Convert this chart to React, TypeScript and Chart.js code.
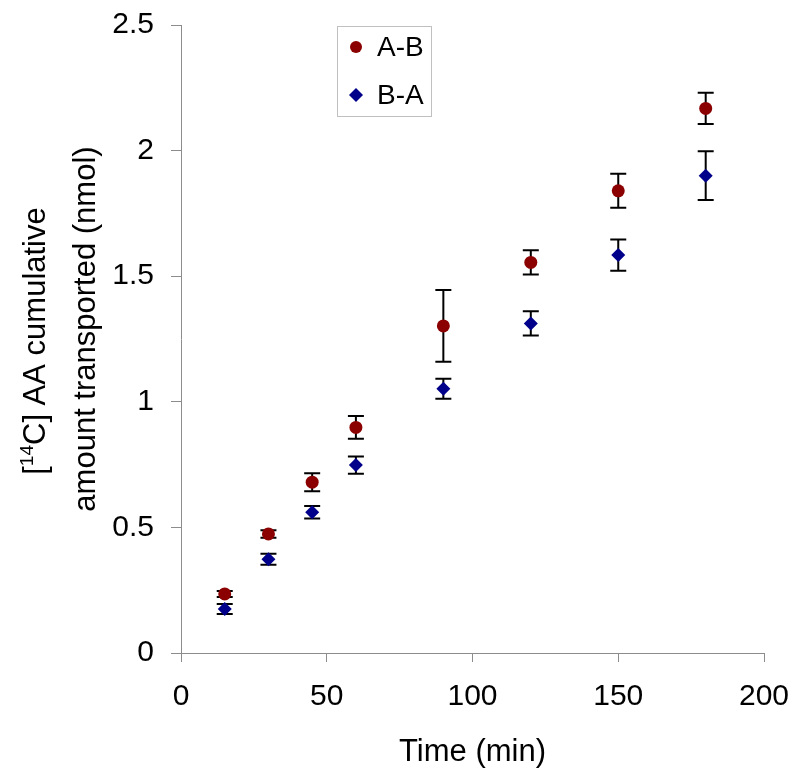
import React, { useEffect, useRef } from "react";
import { Chart, registerables } from "chart.js";

Chart.register(...registerables);

// ---- data ----
const times = [15, 30, 45, 60, 90, 120, 150, 180];
const abValues = [0.235, 0.474, 0.68, 0.898, 1.302, 1.555, 1.84, 2.168];
const abErrors = [0.012, 0.015, 0.036, 0.045, 0.143, 0.048, 0.068, 0.062];
const baValues = [0.175, 0.373, 0.56, 0.748, 1.052, 1.312, 1.584, 1.9];
const baErrors = [0.02, 0.022, 0.025, 0.034, 0.04, 0.048, 0.062, 0.097];
const seriesLabels = ["A-B", "B-A"];
const xTitle = "Time (min)";
const yTitleLine1 = ["[", "14", "C] AA cumulative"];
const yTitleLine2 = "amount transported (nmol)";
const xMin = 0, xMax = 200, xStep = 50;
const yMin = 0, yMax = 2.5, yStep = 0.5;

const FONT = "'Liberation Sans', Arial, Helvetica, sans-serif";
const TICK_FS = 30;
const TITLE_FS = 31;
const LEG_FS = 28;
const RED = "#8b0000";
const BLUE = "#00008b";
const AXIS = "#8c8c8c";

const errorBarPlugin = {
  id: "errorBars",
  beforeDatasetsDraw(chart: any) {
    const ctx = chart.ctx;
    const xs = chart.scales.x;
    const ys = chart.scales.y;
    ctx.save();
    ctx.strokeStyle = "#000";
    ctx.lineWidth = 2;
    chart.data.datasets.forEach((ds: any) => {
      ds.data.forEach((p: any, j: number) => {
        const e = ds.errors[j];
        const x = xs.getPixelForValue(p.x);
        const yt = ys.getPixelForValue(p.y + e);
        const yb = ys.getPixelForValue(p.y - e);
        ctx.beginPath();
        ctx.moveTo(x, yt);
        ctx.lineTo(x, yb);
        ctx.moveTo(x - 8, yt);
        ctx.lineTo(x + 8, yt);
        ctx.moveTo(x - 8, yb);
        ctx.lineTo(x + 8, yb);
        ctx.stroke();
      });
    });
    ctx.restore();
  },
};

const decorPlugin = {
  id: "decor",
  afterDraw(chart: any) {
    const ctx = chart.ctx;
    const area = chart.chartArea;
    ctx.save();
    ctx.fillStyle = "#000";
    const mainFont = `${TITLE_FS}px ${FONT}`;
    // x title
    ctx.font = mainFont;
    ctx.textAlign = "center";
    ctx.textBaseline = "middle";
    ctx.fillText(xTitle, (area.left + area.right) / 2, 752);

    // y title line 1 (with superscript)
    ctx.save();
    ctx.translate(36, 341);
    ctx.rotate(-Math.PI / 2);
    ctx.textAlign = "left";
    ctx.textBaseline = "middle";
    const supFont = `${Math.round(TITLE_FS * 0.6)}px ${FONT}`;
    ctx.font = mainFont;
    const w0 = ctx.measureText(yTitleLine1[0]).width;
    const w2 = ctx.measureText(yTitleLine1[2]).width;
    ctx.font = supFont;
    const w1 = ctx.measureText(yTitleLine1[1]).width;
    let sx = -(w0 + w1 + w2) / 2;
    ctx.font = mainFont;
    ctx.fillText(yTitleLine1[0], sx, 0);
    sx += w0;
    ctx.font = supFont;
    ctx.fillText(yTitleLine1[1], sx, -8);
    sx += w1;
    ctx.font = mainFont;
    ctx.fillText(yTitleLine1[2], sx, 0);
    ctx.restore();

    // y title line 2
    ctx.save();
    ctx.translate(86, 329);
    ctx.rotate(-Math.PI / 2);
    ctx.font = mainFont;
    ctx.textAlign = "center";
    ctx.textBaseline = "middle";
    ctx.fillText(yTitleLine2, 0, 0);
    ctx.restore();

    // legend box
    const bx = 337, by = 26, bw = 94, bh = 90;
    ctx.strokeStyle = "#c0c0c0";
    ctx.lineWidth = 1;
    ctx.fillStyle = "#fff";
    ctx.fillRect(bx, by, bw, bh);
    ctx.strokeRect(bx + 0.5, by + 0.5, bw, bh);
    chart.data.datasets.forEach((ds: any, i: number) => {
      const my = by + 21 + i * 48;
      const mx = bx + 19;
      ctx.fillStyle = ds.backgroundColor;
      ctx.beginPath();
      if (ds.pointStyle === "circle") {
        ctx.arc(mx, my, 6, 0, Math.PI * 2);
      } else {
        const r = 7;
        ctx.moveTo(mx, my - r);
        ctx.lineTo(mx + r, my);
        ctx.lineTo(mx, my + r);
        ctx.lineTo(mx - r, my);
        ctx.closePath();
      }
      ctx.fill();
      ctx.fillStyle = "#000";
      ctx.font = `${LEG_FS}px ${FONT}`;
      ctx.textAlign = "left";
      ctx.textBaseline = "middle";
      ctx.fillText(ds.label, bx + 40, my + 1);
    });
    ctx.restore();
  },
};

const zeroPad = (s: any) => {
  s.paddingTop = 0;
  s.paddingBottom = 0;
  s.paddingLeft = 0;
  s.paddingRight = 0;
};

export default function App() {
  const ref = useRef<HTMLCanvasElement | null>(null);
  useEffect(() => {
    if (!ref.current) return;
    const chart = new Chart(ref.current, {
      type: "scatter",
      data: {
        datasets: [
          {
            label: seriesLabels[0],
            data: times.map((t, i) => ({ x: t, y: abValues[i] })),
            errors: abErrors,
            backgroundColor: RED,
            borderColor: RED,
            pointStyle: "circle",
            pointRadius: 6.5,
            pointHoverRadius: 6.5,
            borderWidth: 0,
          } as any,
          {
            label: seriesLabels[1],
            data: times.map((t, i) => ({ x: t, y: baValues[i] })),
            errors: baErrors,
            backgroundColor: BLUE,
            borderColor: BLUE,
            pointStyle: "rectRot",
            pointRadius: 7,
            pointHoverRadius: 7,
            borderWidth: 0,
          } as any,
        ],
      },
      options: {
        responsive: false,
        animation: false,
        devicePixelRatio: 1,
        layout: { padding: { left: 0, right: 36, top: 25, bottom: 0 } },
        plugins: { legend: { display: false }, tooltip: { enabled: false } },
        scales: {
          x: {
            type: "linear",
            min: xMin,
            max: xMax,
            afterFit: (s: any) => { s.height = 127; zeroPad(s); },
            ticks: { stepSize: xStep, color: "#000", font: { family: FONT, size: TICK_FS }, padding: 17 },
            grid: { drawOnChartArea: false, drawTicks: true, tickLength: 9, color: AXIS },
            border: { display: true, color: AXIS, width: 1 },
          },
          y: {
            type: "linear",
            min: yMin,
            max: yMax,
            afterFit: (s: any) => { s.width = 181; zeroPad(s); },
            ticks: {
              stepSize: yStep,
              color: "#000",
              font: { family: FONT, size: TICK_FS },
              padding: 17,
              callback: (v: any) => String(Math.round(Number(v) * 10) / 10),
            },
            grid: { drawOnChartArea: false, drawTicks: true, tickLength: 10, color: AXIS },
            border: { display: true, color: AXIS, width: 1 },
          },
        },
      } as any,
      plugins: [errorBarPlugin, decorPlugin],
    });
    return () => chart.destroy();
  }, []);
  return (
    <div style={{ position: "absolute", left: 0, top: 0, width: 800, height: 780, background: "#fff" }}>
      <canvas ref={ref} width={800} height={780} style={{ display: "block" }} />
    </div>
  );
}
